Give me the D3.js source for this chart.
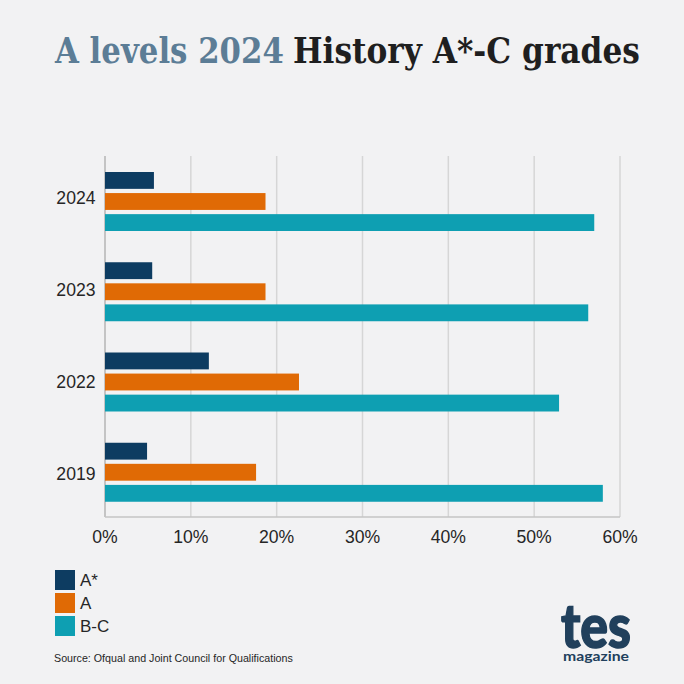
<!DOCTYPE html>
<html>
<head>
<meta charset="utf-8">
<script src="https://cdn.jsdelivr.net/npm/d3@7"></script>
<style>
	html, body { margin: 0; padding: 0; background: #f2f2f3; }
	svg { display: block; }
	text { font-family: 'Liberation Sans', Arial, sans-serif; fill: #262626; }
</style>
</head>
<body>
<svg id="chart" width="684" height="684"></svg>
<script>
const years = ['2024', '2023', '2022', '2019'];
const grades = ['A*', 'A', 'B-C'];
const aStar = [5.7, 5.5, 12.1, 4.9];
const gradeA = [18.7, 18.7, 22.6, 17.6];
const bToC = [57.0, 56.3, 52.9, 58.0];
const xTicks = [0, 10, 20, 30, 40, 50, 60];
const colours = ['#0d3c61', '#e06a05', '#0e9fb2'];

const seriesValues = [aStar, gradeA, bToC];

const svg = d3.select('#chart');

// title, two texts squeezed sideways to the width of the original serif
const addTitle = (label, left, width, colour) => {
	const text = svg.append('text')
		.style('font-family', "'DejaVu Serif', serif")
		.style('font-weight', 'bold')
		.style('font-size', '35.5px')
		.style('fill', colour)
		.text(label);
	const squeeze = width / text.node().getComputedTextLength();
	text.attr('transform', `translate(${left},63) scale(${squeeze},1)`);
};
addTitle('A levels 2024', 55, 229, '#5c7d96');
addTitle('History A*-C grades', 293, 347, '#1f1f1f');

const x = d3.scaleLinear().domain([0, 60]).range([105, 620]);
const y = d3.scaleBand().domain(years).range([156, 517]);
const inner = d3.scaleBand().domain(grades).range([16, 75]).paddingInner(0.2);
// the year labels sit a little wider apart than the bar groups
const yLabel = d3.scalePoint().domain(years).range([204, 480]);

// gridlines
svg.append('g')
	.selectAll('line')
	.data(xTicks)
	.enter()
	.append('line')
	.attr('x1', (d) => x(d))
	.attr('x2', (d) => x(d))
	.attr('y1', 156)
	.attr('y2', 517)
	.attr('stroke', (d) => (d === 0 ? '#b5b5b5' : '#d6d6d6'))
	.attr('stroke-width', 1.5);

svg.append('line')
	.attr('x1', x(0))
	.attr('x2', x(60))
	.attr('y1', 517)
	.attr('y2', 517)
	.attr('stroke', '#c4c4c4')
	.attr('stroke-width', 1.5);

// bars
const groups = svg.append('g')
	.selectAll('g')
	.data(years)
	.enter()
	.append('g')
	.attr('transform', (d) => `translate(0,${y(d)})`);

groups.selectAll('rect')
	.data((d, i) => grades.map((g, j) => ({ grade: g, value: seriesValues[j][i], colour: colours[j] })))
	.enter()
	.append('rect')
	.attr('x', x(0))
	.attr('y', (d) => inner(d.grade))
	.attr('width', (d) => x(d.value) - x(0))
	.attr('height', inner.bandwidth())
	.attr('fill', (d) => d.colour);

// axis labels
svg.append('g')
	.selectAll('text')
	.data(years)
	.enter()
	.append('text')
	.attr('x', 95.5)
	.attr('y', (d) => yLabel(d))
	.attr('text-anchor', 'end')
	.style('font-size', '17.6px')
	.text((d) => d);

svg.append('g')
	.selectAll('text')
	.data(xTicks)
	.enter()
	.append('text')
	.attr('x', (d) => x(d))
	.attr('y', 543)
	.attr('text-anchor', 'middle')
	.style('font-size', '17.6px')
	.text((d) => d + '%');

// legend
const legend = svg.append('g')
	.selectAll('g')
	.data(grades)
	.enter()
	.append('g')
	.attr('transform', (d, i) => `translate(55,${570 + i * 23})`);

legend.append('rect')
	.attr('width', 20)
	.attr('height', 20)
	.attr('fill', (d, i) => colours[i]);

legend.append('text')
	.attr('x', 25)
	.attr('y', 16)
	.style('font-size', '17px')
	.text((d) => d);

// source
svg.append('text')
	.attr('x', 54)
	.attr('y', 662)
	.style('font-size', '10.7px')
	.text('Source: Ofqual and Joint Council for Qualifications');

// logo
svg.append('text')
	.attr('x', 596)
	.attr('y', 648)
	.attr('text-anchor', 'middle')
	.attr('textLength', 70)
	.attr('lengthAdjust', 'spacingAndGlyphs')
	.style('font-family', 'Lato, sans-serif')
	.style('font-weight', 900)
	.style('font-size', '60px')
	.style('fill', '#21405c')
	.style('stroke', '#21405c')
	.style('stroke-width', 1.5)
	.text('tes');

svg.append('text')
	.attr('x', 596)
	.attr('y', 661)
	.attr('text-anchor', 'middle')
	.attr('textLength', 66)
	.attr('lengthAdjust', 'spacingAndGlyphs')
	.style('font-family', 'Lato, sans-serif')
	.style('font-weight', 700)
	.style('font-size', '14px')
	.style('fill', '#21405c')
	.text('magazine');
</script>
</body>
</html>
